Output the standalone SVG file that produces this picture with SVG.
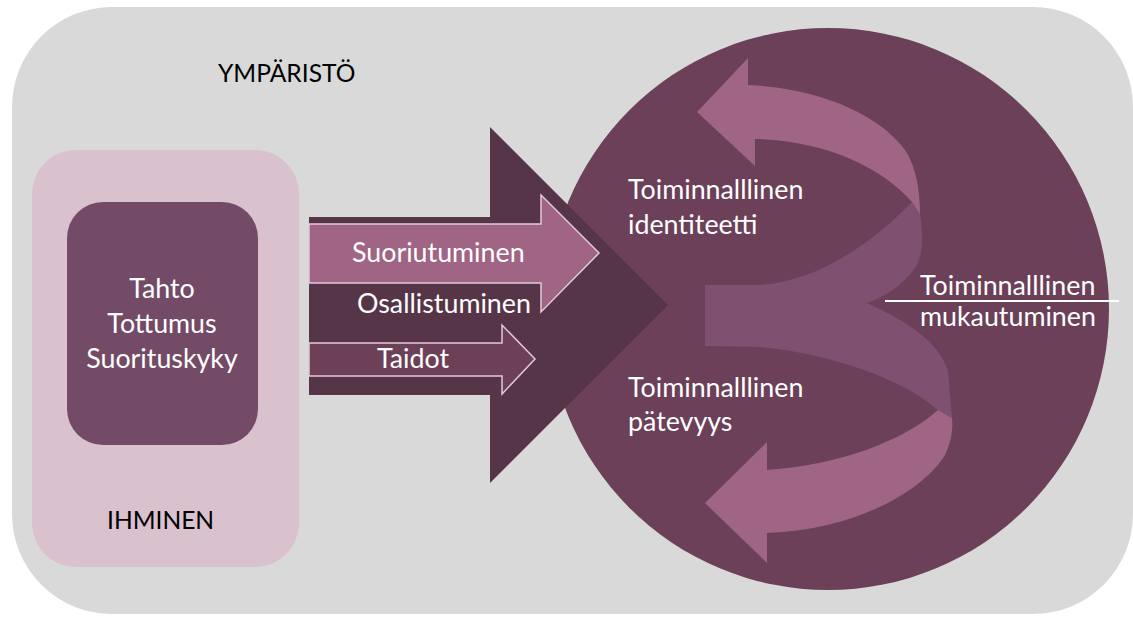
<svg xmlns="http://www.w3.org/2000/svg" width="1133" height="617" viewBox="0 0 1133 617">
<style>
.t{font-family:Lato,"Open Sans","Liberation Sans",sans-serif;font-size:26.8px;}
.c{font-size:24.6px;}
.w{fill:#ffffff;}
.k{fill:#000000;}
.band{fill:#a06485;}
.mid{fill:#805070;}
.sa{stroke:#e2c9d6;stroke-width:1.5;}
</style>
<rect width="1133" height="617" fill="#ffffff"/>
<g id="environment">
<rect x="12" y="7" width="1121" height="607" rx="100" ry="100" fill="#d9d9d9"/>
<text class="t c k" x="218" y="82">YMPÄRISTÖ</text>
</g>
<g id="person">
<rect x="32" y="150" width="267" height="417" rx="44" ry="44" fill="#d9c1ce"/>
<text class="t c k" x="107" y="529">IHMINEN</text>
</g>
<g id="volition">
<rect x="67" y="202" width="191" height="243" rx="36" ry="36" fill="#744b66"/>
<text class="t w" text-anchor="middle" x="162" y="298">Tahto</text>
<text class="t w" text-anchor="middle" x="162" y="333">Tottumus</text>
<text class="t w" text-anchor="middle" x="162" y="368">Suorituskyky</text>
</g>
<g id="circle">
<circle cx="828" cy="309" r="281" fill="#6b4058"/>
</g>
<g id="connectors">
<polygon id="big-arrow" points="309,217 490,217 490,127 668,305 490,483 490,395 309,395" fill="#573548"/>
<polygon id="arrow-suoriutuminen" class="sa" points="309,224 541,224 541,195 599,253 541,312 541,283 309,283" fill="#a06485"/>
<polygon id="arrow-taidot" class="sa" points="309,343 502,343 502,325 535,359 502,394 502,376 309,376" fill="#6d4058"/>
<path id="spiral-mid" class="mid" d="M705,285 L760,285 C812,282 868,248 912,202 L920,214 C924,240 922,258 915,268 C902,286 886,296 867,303 C900,318 940,340 948,372 L952,418 L938,410 C900,376 820,352 760,347 L705,346 Z"/>
<path id="spiral-top" class="band" d="M697,112 L748,58 L748,85 C820,88 880,115 905,150 C916,166 920,190 920,214 L912,202 C880,165 820,140 755,139 L755,166 Z"/>
<path id="spiral-bottom" class="band" d="M938,410 C905,440 840,465 767,470 L767,442 L705,503 L767,563 L767,533 C850,530 920,495 945,455 C952,440 953,428 952,418 Z"/>
<line x1="885" y1="301" x2="1119" y2="301" stroke="#ffffff" stroke-width="2"/>
</g>
<g id="labels">
<text class="t w" x="352" y="262">Suoriutuminen</text>
<text class="t w" x="357" y="313">Osallistuminen</text>
<text class="t w" x="377" y="368">Taidot</text>
<text class="t w" x="628" y="199">Toiminnalllinen</text>
<text class="t w" x="628" y="234">identiteetti</text>
<text class="t w" x="628" y="397">Toiminnalllinen</text>
<text class="t w" x="628" y="431">pätevyys</text>
<text class="t w" x="920" y="295">Toiminnalllinen</text>
<text class="t w" x="920" y="326">mukautuminen</text>
</g>
</svg>
